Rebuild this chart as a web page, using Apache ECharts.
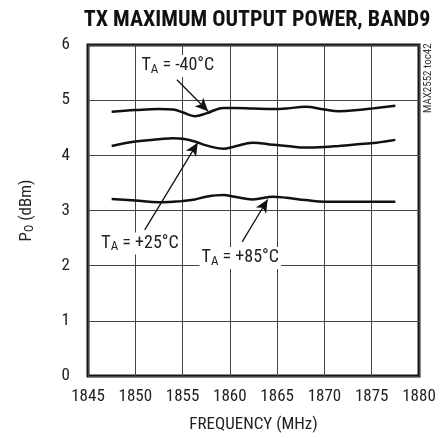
<!DOCTYPE html>
<html>
<head>
<meta charset="utf-8">
<script src="https://cdn.jsdelivr.net/npm/echarts@6/dist/echarts.min.js"></script>
<style>
  html, body { margin: 0; padding: 0; background: #fff; }
  #chart { width: 448px; height: 438px; }
</style>
</head>
<body>
<div id="chart"></div>
<script>
// Frequency sweep points (MHz)
const freq = [1847.5, 1850, 1852.5, 1854, 1855, 1856.3, 1857.5, 1859.3, 1860.5,
              1862.4, 1864.6, 1866, 1868, 1870, 1871.5, 1873.5, 1875.5, 1877.5];

// Maximum output power (dBm) at each ambient temperature
const powerM40 = [4.79, 4.82, 4.84, 4.83, 4.78, 4.71, 4.76, 4.86, 4.86,
                  4.85, 4.84, 4.85, 4.88, 4.83, 4.80, 4.82, 4.86, 4.90];
const powerP25 = [4.17, 4.25, 4.29, 4.31, 4.30, 4.25, 4.18, 4.12, 4.16,
                  4.23, 4.19, 4.17, 4.14, 4.15, 4.17, 4.20, 4.23, 4.28];
const powerP85 = [3.21, 3.18, 3.15, 3.16, 3.17, 3.20, 3.25, 3.28, 3.25,
                  3.20, 3.25, 3.23, 3.19, 3.16, 3.16, 3.16, 3.16, 3.16];

// Axis ticks
const xTicks = [1845, 1850, 1855, 1860, 1865, 1870, 1875, 1880];
const yTicks = [0, 1, 2, 3, 4, 5, 6];

// Curve callouts: label text, label anchor and arrow (tail -> head), in data units
const calloutTemps = ['-40°C', '+25°C', '+85°C'];
const calloutLabelAt = [[1854.5, 5.62], [1850.5, 2.40], [1861.1, 2.14]];
const calloutArrowFrom = [[1854.4, 5.37], [1851.0, 2.65], [1861.3, 2.43]];
const calloutArrowTo = [[1857.7, 4.80], [1856.6, 4.23], [1864.0, 3.20]];

const FONT = '"Roboto Condensed", "DejaVu Sans Condensed", sans-serif';
const seriesData = [powerM40, powerP25, powerP85];

const chart = echarts.init(document.getElementById('chart'), null, { renderer: 'canvas' });

const calloutRich = {
  a: { fontFamily: FONT, fontSize: 18, color: '#222' },
  s: { fontFamily: FONT, fontSize: 13, color: '#222', verticalAlign: 'bottom', padding: [7, 0, 0, 0] }
};
const axisNameRich = {
  a: { fontFamily: FONT, fontSize: 17, color: '#222' },
  s: { fontFamily: FONT, fontSize: 12, color: '#222', verticalAlign: 'bottom', padding: [6, 0, 0, 0] }
};

const series = seriesData.map((vals, i) => ({
  type: 'line',
  data: freq.map((f, k) => [f, vals[k]]),
  smooth: 0.4,
  symbol: 'none',
  lineStyle: { color: '#111', width: 2.5 },
  z: 5,
  markLine: {
    silent: true,
    animation: false,
    symbol: ['none', 'arrow'],
    symbolSize: [9, 13],
    label: { show: false },
    lineStyle: { color: '#111', width: 1.3, type: 'solid' },
    data: [[
      { coord: calloutArrowFrom[i] },
      { coord: calloutArrowTo[i] }
    ]]
  },
  markPoint: {
    silent: true,
    animation: false,
    symbol: 'rect',
    symbolSize: 0,
    label: {
      show: true,
      position: 'inside',
      backgroundColor: '#fff',
      padding: [1, 2, 1, 2],
      formatter: '{a|T}{s|A}{a| = ' + calloutTemps[i] + '}',
      rich: calloutRich
    },
    data: [{ coord: calloutLabelAt[i] }]
  }
}));

chart.setOption({
  animation: false,
  title: {
    text: 'TX MAXIMUM OUTPUT POWER, BAND9',
    left: 252,
    textAlign: 'center',
    top: 4,
    textStyle: { fontFamily: FONT, fontSize: 22, fontWeight: 'bold', color: '#111' }
  },
  grid: {
    left: 88, right: 29, top: 45, bottom: 62,
    show: true, borderColor: '#151515', borderWidth: 3, backgroundColor: 'transparent'
  },
  xAxis: {
    type: 'value',
    min: xTicks[0], max: xTicks[xTicks.length - 1], interval: 5,
    name: 'FREQUENCY (MHz)',
    nameLocation: 'middle',
    nameGap: 40,
    nameTextStyle: { fontFamily: FONT, fontSize: 17, color: '#222' },
    axisLine: { show: false },
    axisTick: { show: false },
    axisLabel: { fontFamily: FONT, fontSize: 17, color: '#222', margin: 12, formatter: v => String(v) },
    splitLine: { show: true, lineStyle: { color: '#444', width: 1 } }
  },
  yAxis: {
    type: 'value',
    min: yTicks[0], max: yTicks[yTicks.length - 1], interval: 1,
    name: '{a|P}{s|O}{a| (dBm)}',
    nameLocation: 'middle',
    nameGap: 52,
    nameRotate: 90,
    nameTextStyle: { rich: axisNameRich },
    axisLine: { show: false },
    axisTick: { show: false },
    axisLabel: { fontFamily: FONT, fontSize: 17, color: '#222', margin: 18 },
    splitLine: { show: true, lineStyle: { color: '#444', width: 1 } }
  },
  graphic: [{
    type: 'text',
    x: 428,
    y: 113,
    rotation: Math.PI / 2,
    style: {
      text: 'MAX2552 toc42',
      fontFamily: FONT,
      fontSize: 11,
      fill: '#333',
      textAlign: 'left',
      textVerticalAlign: 'middle'
    }
  }],
  series: series
});
</script>
</body>
</html>
